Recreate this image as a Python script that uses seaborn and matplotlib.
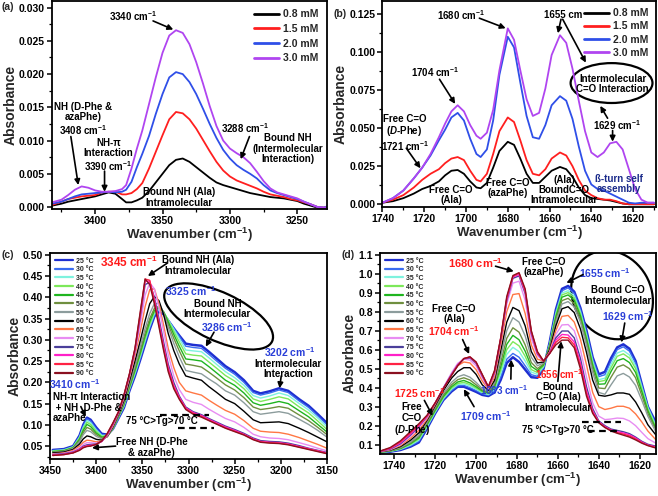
import matplotlib
matplotlib.use("Agg")
import matplotlib.pyplot as plt
import matplotlib.transforms as mtransforms
from matplotlib.patches import Ellipse
from matplotlib.ticker import MultipleLocator, FormatStrFormatter
import pandas as pd
import seaborn as sns

# ---------------- (a) N-H stretch, concentration series
wn_a = [3432, 3425, 3420, 3415, 3410, 3405, 3400, 3395, 3390, 3385, 3380,
        3377, 3373, 3369, 3365,
        3360, 3355, 3350, 3345, 3340, 3335, 3330, 3325, 3320, 3315, 3310, 3305, 3300,
        3295, 3290, 3285, 3280, 3275, 3270, 3265, 3260, 3255, 3250, 3245, 3240, 3235,
        3230, 3228]
a_08 = [.0002, .0005, .0008, .0010, .0012, .0014, .0016, .0019, .0022, .0020, .0012,
        .0007, .0007, .0010, .0014,
        .0024, .0037, .0050, .0063, .0071, .0073, .0068, .0060, .0052, .0044, .0037, .0033, .0030,
        .0027, .0024, .0021, .0019, .0017, .0015, .0014, .0013, .0011, .0009, .0005, .0002, -.0001,
        -.0001, .0000]
a_15 = [.0003, .0008, .0012, .0014, .0016, .0017, .0018, .0022, .0023, .0023, .0019,
        .0019, .0021, .0027, .0036,
        .0058, .0083, .0108, .0132, .0143, .0141, .0132, .0118, .0101, .0084, .0068, .0055, .0046,
        .0040, .0036, .0032, .0028, .0023, .0019, .0017, .0015, .0012, .0010, .0007, .0004, .0000,
        -.0001, .0000]
a_20 = [.0005, .0008, .0012, .0016, .0019, .0020, .0021, .0022, .0023, .0022, .0023,
        .0026, .0038, .0060, .0080,
        .0107, .0140, .0170, .0195, .0203, .0200, .0188, .0170, .0148, .0125, .0104, .0086, .0073,
        .0063, .0056, .0050, .0043, .0033, .0025, .0021, .0018, .0015, .0012, .0008, .0004, .0000,
        -.0001, .0001]
a_30 = [.0007, .0011, .0018, .0026, .0031, .0029, .0025, .0023, .0023, .0024, .0027,
        .0033, .0058, .0088, .0115,
        .0155, .0195, .0232, .0258, .0266, .0262, .0245, .0218, .0186, .0152, .0122, .0100, .0088,
        .0081, .0075, .0066, .0053, .0039, .0028, .0022, .0019, .0016, .0013, .0008, .0004, .0000,
        -.0001, .0000]
conc_labels = ["0.8 mM", "1.5 mM", "2.0 mM", "3.0 mM"]

# ---------------- (b) C=O stretch, concentration series
wn_b = [1740, 1735, 1730, 1725, 1721, 1717, 1713, 1710, 1707, 1704, 1701, 1698, 1695, 1693,
        1690, 1687, 1684, 1680, 1677, 1674, 1671, 1668, 1665, 1662, 1659, 1655, 1652, 1649,
        1646, 1643, 1640, 1637, 1634, 1631, 1628, 1625, 1622, 1619, 1616, 1613, 1610]
b_08 = [.001, .002, .004, .007, .010, .012, .015, .019, .022, .0225, .020, .015, .011, .0105,
        .014, .024, .035, .041, .039, .030, .020, .014, .014, .018, .022, .0245, .023, .018,
        .011, .006, .004, .0035, .003, .0025, .0015, .0005, .0, .0, .0, .0, .0]
b_15 = [.001, .003, .006, .011, .016, .020, .023, .027, .030, .031, .029, .022, .016, .015,
        .020, .033, .048, .057, .054, .042, .029, .020, .019, .023, .030, .034, .032, .025,
        .016, .009, .006, .004, .003, .003, .002, .0005, .0, .0, .0, .0, .0]
b_20 = [.001, .004, .009, .017, .024, .032, .042, .049, .057, .060, .055, .043, .033, .031,
        .036, .055, .085, .110, .103, .080, .058, .044, .043, .052, .065, .071, .068, .056,
        .038, .022, .013, .010, .009, .007, .005, .003, .001, .0005, .001, .001, .001]
b_30 = [.001, .004, .009, .017, .024, .033, .044, .053, .061, .065, .061, .052, .045, .043,
        .047, .062, .088, .1155, .108, .088, .069, .058, .060, .076, .098, .111, .106, .089,
        .068, .048, .034, .031, .034, .040, .041, .036, .023, .010, .003, .001, .001]

# ---------------- (c) N-H stretch, temperature series
wn_c = [3447, 3435, 3425, 3418, 3414, 3410, 3406, 3400, 3394, 3388, 3382,
        3376, 3370, 3364, 3358, 3352, 3347, 3342, 3337, 3332, 3327, 3322, 3316, 3310, 3303,
        3295, 3286, 3278, 3270, 3260, 3250, 3240, 3230, 3222, 3212, 3202, 3192, 3180, 3170, 3160, 3150]
c_25 = [.041, .043, .050, .075, .100, .117, .112, .094, .079, .077, .090,
        .115, .140, .180, .215, .255, .290, .325, .355, .367, .360, .345, .327, .310, .291,
        .288, .286, .272, .257, .238, .224, .205, .180, .174, .179, .186, .180, .160, .145, .125, .104]
c_30 = [.040, .042, .049, .073, .097, .114, .109, .091, .077, .076, .090,
        .116, .142, .182, .218, .258, .294, .328, .358, .370, .363, .347, .328, .308, .285,
        .282, .280, .266, .251, .233, .219, .200, .176, .170, .175, .182, .176, .156, .141, .121, .100]
c_35 = [.039, .041, .048, .071, .094, .110, .105, .088, .075, .075, .090,
        .117, .144, .184, .221, .262, .298, .332, .361, .372, .365, .347, .325, .303, .276,
        .274, .272, .258, .243, .225, .211, .193, .169, .163, .168, .175, .169, .150, .135, .116, .095]
c_40 = [.038, .040, .047, .069, .091, .106, .101, .085, .073, .074, .091,
        .118, .146, .186, .224, .266, .303, .337, .365, .375, .366, .346, .320, .295, .267,
        .264, .262, .248, .234, .216, .203, .185, .161, .155, .160, .166, .161, .142, .128, .109, .089]
c_45 = [.037, .039, .046, .066, .087, .101, .096, .081, .071, .073, .091,
        .119, .148, .189, .228, .271, .309, .343, .369, .377, .366, .342, .313, .285, .255,
        .253, .250, .237, .223, .205, .193, .175, .152, .146, .150, .155, .150, .133, .119, .101, .083]
c_50 = [.036, .038, .045, .063, .082, .094, .090, .077, .069, .072, .092,
        .120, .150, .192, .233, .277, .316, .350, .374, .379, .364, .336, .304, .274, .243,
        .240, .236, .224, .211, .194, .182, .164, .142, .136, .139, .143, .139, .123, .110, .094, .077]
c_55 = [.035, .037, .044, .060, .077, .087, .084, .073, .067, .072, .093,
        .122, .153, .197, .240, .286, .327, .362, .385, .386, .364, .329, .292, .260, .228,
        .224, .220, .208, .197, .180, .170, .152, .131, .125, .128, .131, .127, .113, .101, .087, .071]
c_60 = [.034, .036, .042, .055, .067, .074, .072, .066, .064, .073, .095,
        .124, .157, .203, .250, .300, .345, .385, .402, .392, .360, .315, .275, .243, .215,
        .210, .205, .190, .177, .160, .150, .132, .112, .105, .106, .107, .103, .092, .082, .071, .060]
c_65 = [.032, .034, .040, .050, .059, .064, .063, .060, .062, .074, .097,
        .126, .162, .210, .263, .322, .378, .418, .420, .385, .335, .280, .235, .200, .180,
        .175, .170, .158, .147, .134, .125, .110, .092, .085, .083, .082, .078, .070, .062, .054, .045]
c_70 = [.031, .033, .038, .046, .054, .058, .058, .057, .061, .075, .099,
        .127, .165, .214, .270, .340, .405, .434, .420, .375, .320, .265, .215, .183, .160,
        .153, .148, .137, .127, .115, .107, .094, .078, .072, .069, .068, .065, .058, .052, .045, .039]
c_75 = [.030, .032, .036, .043, .050, .053, .054, .055, .061, .077, .101,
        .128, .167, .217, .275, .357, .430, .435, .400, .350, .295, .243, .200, .168, .142,
        .131, .124, .115, .107, .097, .089, .080, .069, .063, .061, .060, .057, .051, .045, .040, .035]
c_80 = [.029, .031, .035, .042, .048, .051, .052, .054, .061, .078, .102,
        .129, .168, .218, .277, .362, .438, .438, .395, .342, .286, .236, .193, .165, .140,
        .129, .122, .113, .105, .095, .087, .078, .067, .061, .059, .058, .055, .049, .044, .039, .034]
c_85 = [.028, .030, .034, .041, .047, .050, .051, .054, .062, .079, .103,
        .130, .169, .219, .279, .366, .443, .440, .390, .336, .280, .230, .189, .162, .138,
        .127, .120, .111, .103, .093, .085, .077, .066, .060, .058, .057, .054, .048, .043, .038, .033]
c_90 = [.028, .030, .034, .040, .046, .049, .050, .054, .062, .080, .104,
        .130, .170, .220, .280, .370, .443, .430, .385, .330, .275, .225, .185, .160, .136,
        .125, .118, .110, .102, .092, .084, .076, .065, .059, .057, .056, .053, .047, .042, .037, .032]

# ---------------- (d) C=O stretch, temperature series
wn_d = [1747, 1742, 1737, 1732, 1728, 1724, 1720, 1716, 1712, 1709, 1706, 1703, 1700, 1697,
        1694, 1691, 1688, 1685, 1682, 1679, 1676, 1673, 1670, 1667, 1664, 1661, 1658, 1655,
        1652, 1649, 1646, 1643, 1640, 1637, 1634, 1631, 1628, 1625, 1622, 1619, 1616, 1612]
d_25 = [.058, .063, .072, .090, .112, .185, .265, .335, .380, .405, .405, .392, .378, .362,
        .356, .375, .440, .530, .560, .535, .495, .455, .452, .500, .640, .810, .920, .935,
        .905, .820, .700, .560, .470, .483, .555, .612, .628, .605, .540, .420, .300, .215]
d_30 = [.059, .064, .074, .094, .118, .190, .268, .338, .385, .410, .412, .400, .385, .368,
        .360, .382, .455, .550, .580, .560, .515, .468, .460, .505, .635, .800, .910, .925,
        .895, .812, .690, .552, .458, .468, .540, .600, .615, .592, .530, .415, .300, .205]
d_35 = [.060, .065, .076, .098, .124, .195, .272, .343, .392, .416, .420, .408, .392, .373,
        .364, .390, .472, .575, .612, .590, .540, .482, .470, .510, .630, .790, .898, .910,
        .882, .800, .678, .540, .442, .450, .522, .582, .595, .572, .515, .405, .295, .198]
d_40 = [.060, .066, .078, .102, .130, .200, .277, .348, .398, .422, .428, .416, .398, .378,
        .368, .398, .490, .600, .642, .620, .565, .495, .480, .515, .625, .782, .888, .900,
        .872, .790, .668, .530, .432, .438, .505, .565, .578, .556, .500, .395, .288, .190]
d_45 = [.061, .067, .080, .106, .136, .205, .282, .354, .405, .430, .438, .425, .405, .383,
        .372, .405, .508, .628, .675, .652, .592, .512, .490, .520, .620, .772, .876, .888,
        .860, .778, .655, .518, .418, .420, .485, .542, .553, .532, .480, .380, .278, .182]
d_50 = [.062, .068, .082, .110, .142, .212, .290, .362, .415, .442, .452, .440, .415, .388,
        .376, .415, .530, .660, .715, .692, .625, .532, .500, .525, .612, .758, .858, .870,
        .842, .762, .640, .500, .398, .395, .455, .508, .520, .500, .452, .360, .265, .174]
d_55 = [.062, .069, .085, .115, .150, .220, .298, .372, .428, .457, .468, .455, .428, .395,
        .381, .425, .560, .700, .768, .745, .672, .560, .515, .530, .605, .742, .840, .853,
        .825, .745, .622, .480, .375, .365, .415, .462, .475, .456, .412, .335, .250, .165]
d_60 = [.063, .071, .090, .124, .162, .228, .305, .385, .450, .485, .505, .505, .470, .415,
        .386, .438, .592, .745, .822, .805, .725, .590, .530, .535, .600, .725, .815, .826,
        .795, .710, .585, .440, .360, .355, .362, .372, .372, .365, .325, .268, .205, .150]
d_65 = [.064, .073, .095, .135, .175, .235, .312, .395, .470, .515, .535, .530, .495, .435,
        .392, .455, .625, .800, .890, .895, .790, .625, .550, .540, .590, .700, .775, .780,
        .745, .655, .520, .375, .300, .285, .292, .302, .302, .292, .262, .220, .172, .125]
d_70 = [.064, .075, .100, .145, .188, .242, .318, .400, .478, .528, .550, .545, .515, .452,
        .396, .470, .648, .840, .950, .960, .860, .660, .568, .540, .585, .680, .730, .732,
        .700, .600, .455, .320, .250, .232, .235, .240, .238, .225, .200, .165, .132, .107]
d_75 = [.065, .077, .105, .152, .196, .248, .318, .398, .470, .520, .552, .556, .528, .462,
        .400, .478, .652, .858, .975, .988, .895, .685, .578, .540, .582, .662, .698, .698,
        .662, .555, .405, .290, .225, .200, .182, .175, .168, .158, .140, .118, .102, .092]
d_80 = [.065, .080, .110, .158, .200, .250, .320, .396, .468, .518, .553, .560, .532, .466,
        .402, .482, .655, .866, .982, .996, .905, .692, .582, .540, .581, .650, .680, .677,
        .640, .530, .382, .278, .220, .195, .178, .168, .162, .152, .135, .114, .098, .088]
d_85 = [.066, .082, .115, .164, .205, .252, .320, .395, .466, .516, .553, .562, .534, .468,
        .403, .486, .658, .872, .986, 1.003, .912, .696, .586, .540, .580, .638, .665, .662,
        .625, .515, .368, .270, .217, .192, .175, .163, .156, .146, .130, .111, .096, .085]
d_90 = [.066, .085, .120, .170, .210, .255, .320, .395, .465, .515, .553, .562, .535, .470,
        .405, .490, .660, .880, .990, 1.005, .920, .700, .590, .540, .580, .625, .650, .650,
        .610, .500, .355, .265, .215, .190, .172, .160, .150, .140, .125, .108, .095, .082]

temp_labels = ["25 °C", "30 °C", "35 °C", "40 °C", "45 °C", "50 °C", "55 °C",
               "60 °C", "65 °C", "70 °C", "75 °C", "80 °C", "85 °C", "90 °C"]

conc_colors = ["#000000", "#ff1f1f", "#2f4fe8", "#b045f0"]
temp_colors = ["#1f2fd0", "#3a6cf0", "#7ef2de", "#7de85a", "#1fb51f", "#6f8f3f", "#8c9c9c",
               "#000000", "#ff7744", "#e88cf2", "#4a3f9a", "#ff20c8", "#ff2244", "#8b1020"]

BLUE = "#2a3fd8"
RED = "#ff1a1a"


def long_table(wn, names, curves):
    parts = [pd.DataFrame({"wavenumber": wn, "absorbance": vals, "series": name})
             for name, vals in zip(names, curves)]
    return pd.concat(parts, ignore_index=True)


def draw_curves(ax, wn, names, curves, colors, lw):
    df = long_table(wn, names, curves)
    sns.lineplot(data=df, x="wavenumber", y="absorbance", hue="series",
                 hue_order=names, palette=dict(zip(names, colors)),
                 estimator=None, sort=False, linewidth=lw, ax=ax)


def style(ax, xlim, ylim, xmaj, ymaj, yfmt):
    ax.set_xlim(*xlim)
    ax.set_ylim(*ylim)
    ax.xaxis.set_major_locator(MultipleLocator(xmaj))
    ax.xaxis.set_minor_locator(MultipleLocator(xmaj / 2))
    ax.yaxis.set_major_locator(MultipleLocator(ymaj))
    ax.yaxis.set_minor_locator(MultipleLocator(ymaj / 2))
    ax.yaxis.set_major_formatter(FormatStrFormatter(yfmt))
    ax.tick_params(which="major", length=3.5, width=1.1, labelsize=7.5, pad=1.5)
    ax.tick_params(which="minor", length=2, width=0.9)
    ax.set_xlabel("Wavenumber (cm$^{-1}$)", fontsize=9.5, labelpad=0)
    ax.set_ylabel("Absorbance", fontsize=10, labelpad=1)
    for s in ax.spines.values():
        s.set_linewidth(1.3)
        s.set_color("black")


def arrow(ax, start, tip, lw=1.2):
    ax.annotate("", xy=tip, xytext=start,
                arrowprops=dict(arrowstyle="-|>", color="k", lw=lw,
                                mutation_scale=8, shrinkA=0, shrinkB=0))


def note(ax, x, y, s, size=7, color="k", ha="center", clip=False, **kw):
    ax.text(x, y, s, fontsize=size, color=color, ha=ha, va="center",
            fontweight="bold", clip_on=clip, linespacing=1.05, **kw)


def pixel_ellipse(fig, ax, x, y, w_px, h_px, angle):
    tr = fig.dpi_scale_trans + mtransforms.ScaledTranslation(x, y, ax.transData)
    ax.add_patch(Ellipse((0, 0), w_px / 100, h_px / 100, angle=angle, transform=tr,
                         fill=False, ec="k", lw=1.6))


sns.set_style("ticks")
plt.rcParams["font.family"] = ["Liberation Sans", "DejaVu Sans"]
plt.rcParams["font.weight"] = "bold"
plt.rcParams["axes.labelweight"] = "bold"
plt.rcParams["mathtext.fontset"] = "custom"
plt.rcParams["mathtext.rm"] = "Liberation Sans:bold"
plt.rcParams["mathtext.it"] = "Liberation Sans:italic:bold"
plt.rcParams["mathtext.bf"] = "Liberation Sans:bold"
plt.rcParams["xtick.color"] = "black"
plt.rcParams["ytick.color"] = "black"

fig = plt.figure(figsize=(6.58, 4.96), dpi=100)
ax_a = fig.add_axes([0.0790, 0.5786, 0.4179, 0.4194])
ax_b = fig.add_axes([0.5813, 0.5821, 0.4157, 0.4159])
ax_c = fig.add_axes([0.0760, 0.0752, 0.4210, 0.4154])
ax_d = fig.add_axes([0.5775, 0.0847, 0.4195, 0.4058])

# ---- panel (a)
draw_curves(ax_a, wn_a, conc_labels, [a_08, a_15, a_20, a_30], conc_colors, 1.3)
h, l = ax_a.get_legend_handles_labels()
leg = ax_a.legend(h, l, loc="upper right", frameon=False, fontsize=7.5, handlelength=2.4,
                  handletextpad=0.4, labelspacing=0.45, borderaxespad=0.4)
for ln in leg.get_lines():
    ln.set_linewidth(2)
note(ax_a, 3372, 0.0288, "3340 cm$^{-1}$")
arrow(ax_a, (3357, 0.0280), (3342, 0.0267))
note(ax_a, 3409, 0.0132, "NH (D-Phe &\nazaPhe)\n3408 cm$^{-1}$")
arrow(ax_a, (3418, 0.0106), (3412.5, 0.0033))
note(ax_a, 3390, 0.0078, "NH-π\nInteraction\n3390 cm$^{-1}$")
arrow(ax_a, (3393, 0.0054), (3393, 0.0023))
note(ax_a, 3337.5, 0.00145, "Bound NH (Ala)\nIntramolecular")
note(ax_a, 3289, 0.0119, "3288 cm$^{-1}$")
arrow(ax_a, (3285.5, 0.0106), (3292, 0.0072))
note(ax_a, 3257, 0.0088, "Bound NH\n(Intermolecular\nInteraction)", clip=True)
style(ax_a, (3432, 3228), (-0.0003, 0.031), 50, 0.005, "%.3f")

# ---- panel (b)
draw_curves(ax_b, wn_b, conc_labels, [b_08, b_15, b_20, b_30], conc_colors, 1.3)
h, l = ax_b.get_legend_handles_labels()
leg = ax_b.legend(h, l, loc="upper right", frameon=False, fontsize=7.5, handlelength=2.4,
                  handletextpad=0.4, labelspacing=0.3, borderaxespad=0.3)
for ln in leg.get_lines():
    ln.set_linewidth(2)
note(ax_b, 1702.3, 0.1243, "1680 cm$^{-1}$")
arrow(ax_b, (1693.6, 0.1222), (1681, 0.1156))
note(ax_b, 1653.7, 0.1243, "1655 cm")
arrow(ax_b, (1654.5, 0.1215), (1656, 0.1123))
arrow(ax_b, (1653.7, 0.1215), (1642.6, 0.0930))
ax_b.add_patch(Ellipse((1630.3, 0.0796), 39.2, 0.0262, fill=False, ec="k", lw=1.6))
note(ax_b, 1629.8, 0.0791, "Intermolecular\nC=O Interaction", clip=True)
note(ax_b, 1715, 0.0871, "1704 cm$^{-1}$")
arrow(ax_b, (1712.7, 0.0821), (1705.2, 0.0659))
note(ax_b, 1729.4, 0.0465, "Free C=O\n($\\mathit{D}$-Phe)\n1721 cm$^{-1}$")
arrow(ax_b, (1728.6, 0.0368), (1721.8, 0.0236))
note(ax_b, 1707.1, 0.0059, "Free C=O\n(Ala)")
note(ax_b, 1680, 0.0105, "Free C=O\n(azaPhe)")
note(ax_b, 1652.9, 0.0094, "(Ala)\nBoundC=O\nIntramolecular")
note(ax_b, 1626.6, 0.0132, "ß-turn self\nassembly", color="#1a2a8a")
note(ax_b, 1627.4, 0.0521, "1629 cm$^{-1}$")
arrow(ax_b, (1632.2, 0.0565), (1635.7, 0.0646))
arrow(ax_b, (1629.8, 0.0484), (1629.8, 0.0411))
style(ax_b, (1740, 1609), (-0.002, 0.1335), 20, 0.025, "%.3f")

# ---- panel (c)
draw_curves(ax_c, wn_c, temp_labels,
            [c_25, c_30, c_35, c_40, c_45, c_50, c_55, c_60, c_65, c_70, c_75, c_80, c_85, c_90],
            temp_colors, 1.0)
ax_c.lines[0].set_linewidth(1.8)
h, l = ax_c.get_legend_handles_labels()
leg = ax_c.legend(h, l, loc="upper left", frameon=False, fontsize=5, handlelength=2.6,
                  handletextpad=0.5, labelspacing=0.24, borderaxespad=0.3)
for ln in leg.get_lines():
    ln.set_linewidth(1.6)
note(ax_c, 3364.7, 0.481, "3345 cm$^{-1}$", size=8.5, color=RED)
note(ax_c, 3290, 0.4745, "Bound NH (Ala)\nIntramolecular")
arrow(ax_c, (3322.6, 0.481), (3344, 0.450))
pixel_ellipse(fig, ax_c, 3267.4, 0.355, 118, 48, -25)
note(ax_c, 3297.3, 0.415, "3325 cm$^{-1}$", size=7.5, color=BLUE)
note(ax_c, 3268.8, 0.3725, "Bound NH\nIntermolecular")
note(ax_c, 3258.2, 0.331, "3286 cm$^{-1}$", size=7.5, color=BLUE)
arrow(ax_c, (3272.4, 0.318), (3281.3, 0.284))
note(ax_c, 3190.7, 0.271, "3202 cm$^{-1}$", size=7.5, color=BLUE)
note(ax_c, 3192.5, 0.232, "Intermolecular\nInteraction")
arrow(ax_c, (3199.6, 0.215), (3201.4, 0.186))
note(ax_c, 3423.1, 0.195, "3410 cm$^{-1}$", size=7.5, color=BLUE)
note(ax_c, 3446.5, 0.140, "NH-π Interaction\n + NH  D-Phe &\nazaPhe", ha="left")
arrow(ax_c, (3416.6, 0.143), (3411.3, 0.119))
note(ax_c, 3329, 0.108, "75 °C>Tg>70 °C")
ax_c.plot([3331, 3277.6], [0.124, 0.124], color="k", lw=1.6, ls=(0, (3, 2)))
ax_c.plot([3311, 3272], [0.0927, 0.0927], color="k", lw=1.6, ls=(0, (3, 2)))
note(ax_c, 3340, 0.0465, "Free NH (D-Phe\n& azaPhe)")
arrow(ax_c, (3379, 0.050), (3404.6, 0.046))
style(ax_c, (3450, 3150), (0.0204, 0.505), 50, 0.05, "%.2f")

# ---- panel (d)
draw_curves(ax_d, wn_d, temp_labels,
            [d_25, d_30, d_35, d_40, d_45, d_50, d_55, d_60, d_65, d_70, d_75, d_80, d_85, d_90],
            temp_colors, 1.0)
ax_d.lines[0].set_linewidth(1.8)
h, l = ax_d.get_legend_handles_labels()
leg = ax_d.legend(h, l, loc="upper left", frameon=False, fontsize=5, handlelength=2.6,
                  handletextpad=0.5, labelspacing=0.24, borderaxespad=0.3)
for ln in leg.get_lines():
    ln.set_linewidth(1.6)
note(ax_d, 1700.2, 1.056, "1680 cm$^{-1}$", size=8, color=RED)
arrow(ax_d, (1690.5, 1.039), (1681.6, 1.012))
note(ax_d, 1667.1, 1.034, "Free C=O\n(azaPhe)")
pixel_ellipse(fig, ax_d, 1633.5, 0.888, 92, 78, -60)
note(ax_d, 1637.1, 1.003, "1655 cm$^{-1}$", size=7.5, color=BLUE)
arrow(ax_d, (1647.7, 0.995), (1655.8, 0.951))
note(ax_d, 1630.6, 0.885, "Bound C=O\nIntermolecular", clip=True)
note(ax_d, 1625.7, 0.775, "1629 cm$^{-1}$", size=7.5, color=BLUE)
arrow(ax_d, (1627.3, 0.740), (1628.9, 0.638))
note(ax_d, 1710.8, 0.789, "Free C=O\n(Ala)")
note(ax_d, 1710.8, 0.696, "1704 cm$^{-1}$", size=7.5, color=RED)
arrow(ax_d, (1706.6, 0.653), (1703.4, 0.577))
note(ax_d, 1727.7, 0.370, "1725 cm$^{-1}$", size=7.5, color=RED)
arrow(ax_d, (1725.3, 0.333), (1721.3, 0.252))
note(ax_d, 1731.3, 0.232, "Free\nC=O\n($\\mathit{D}$-Phe)")
note(ax_d, 1695.4, 0.249, "1709 cm$^{-1}$", size=7.5, color=BLUE)
arrow(ax_d, (1701, 0.300), (1706, 0.392))
note(ax_d, 1686.5, 0.388, "1683 cm$^{-1}$", size=7, color=BLUE)
arrow(ax_d, (1683, 0.445), (1682.8, 0.547))
note(ax_d, 1659.3, 0.470, "1656 cm$^{-1}$", size=7, color=RED)
note(ax_d, 1660, 0.350, "Bound\nC=O (Ala)\nIntramolecular")
arrow(ax_d, (1660, 0.433), (1658.4, 0.644))
note(ax_d, 1659.8, 0.179, "75 °C>Tg>70 °C")
ax_d.plot([1648.4, 1629], [0.219, 0.219], color="k", lw=1.6, ls=(0, (3, 2)))
ax_d.plot([1645.1, 1631.3], [0.170, 0.170], color="k", lw=1.6, ls=(0, (3, 2)))
style(ax_d, (1747, 1612), (0.051, 1.11), 20, 0.1, "%.1f")

fig.text(0.003, 0.985, "(a)", fontsize=7.5, fontweight="bold", va="center")
fig.text(0.507, 0.972, "(b)", fontsize=7.5, fontweight="bold", va="center")
fig.text(0.003, 0.486, "(c)", fontsize=7.5, fontweight="bold", va="center")
fig.text(0.519, 0.486, "(d)", fontsize=7.5, fontweight="bold", va="center")

fig.savefig("out.png", dpi=100)
